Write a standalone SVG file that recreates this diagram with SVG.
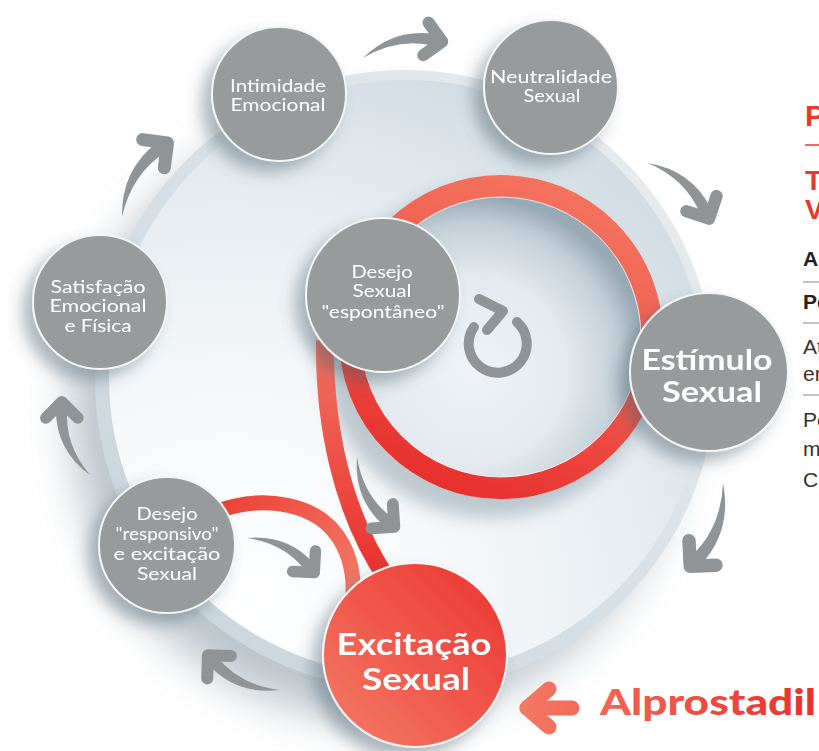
<svg xmlns="http://www.w3.org/2000/svg" width="819" height="751" viewBox="0 0 819 751">
<defs>
<style>
.nd{fill:#979b9c;stroke:#f3f5f6;stroke-width:2}
.tl{font-family:Lato,"Open Sans",sans-serif;font-size:17px;fill:#fff;text-anchor:middle}
.tb{font-family:Lato,"Open Sans",sans-serif;font-weight:700;fill:#fff;text-anchor:middle}
.rt{font-family:"Liberation Sans",Arial,sans-serif}
.rr{fill:#e8392b;font-weight:700}
.rk{fill:#222;font-weight:700;font-size:21px}
.rn{fill:#333;font-size:21px}
.gl{stroke:#9a9a9a;stroke-width:1.2}
</style>
<filter id="blur" x="-20%" y="-20%" width="140%" height="140%"><feGaussianBlur stdDeviation="22"/></filter>
<filter id="blur2" x="-20%" y="-20%" width="140%" height="140%"><feGaussianBlur stdDeviation="9"/></filter>
<filter id="sh" x="-50%" y="-50%" width="200%" height="200%"><feDropShadow dx="-10" dy="10" stdDeviation="8" flood-color="#4d6070" flood-opacity="0.45"/></filter>
<linearGradient id="rim" x1="1" y1="0" x2="0" y2="1"><stop offset="0" stop-color="#eaeff2"/><stop offset="1" stop-color="#c6d2da"/></linearGradient>
<radialGradient id="face" gradientUnits="userSpaceOnUse" cx="230" cy="620" r="580"><stop offset="0" stop-color="#ffffff"/><stop offset="0.45" stop-color="#f4f7f9"/><stop offset="0.8" stop-color="#e2e9ee"/><stop offset="1" stop-color="#d3dde4"/></radialGradient>
<radialGradient id="bowl" cx="0.4" cy="0.62" r="0.62"><stop offset="0" stop-color="#eff3f6"/><stop offset="0.55" stop-color="#e3e9ee"/><stop offset="0.85" stop-color="#c2ced7"/><stop offset="1" stop-color="#98a9b6"/></radialGradient>
<linearGradient id="ring" x1="0.7" y1="0" x2="0.3" y2="1"><stop offset="0" stop-color="#f3735f"/><stop offset="0.5" stop-color="#f0584a"/><stop offset="1" stop-color="#e8302d"/></linearGradient>
<linearGradient id="bandA" gradientUnits="userSpaceOnUse" x1="0" y1="340" x2="0" y2="580"><stop offset="0" stop-color="#f07262"/><stop offset="1" stop-color="#e9302d"/></linearGradient>
<linearGradient id="bandB" gradientUnits="userSpaceOnUse" x1="215" y1="500" x2="355" y2="600"><stop offset="0" stop-color="#ec3f35"/><stop offset="1" stop-color="#f37a67"/></linearGradient>
<linearGradient id="exc" x1="0" y1="1" x2="1" y2="0"><stop offset="0" stop-color="#f47c68"/><stop offset="1" stop-color="#ec3330"/></linearGradient>
<linearGradient id="alp" gradientUnits="userSpaceOnUse" x1="515" y1="0" x2="819" y2="0"><stop offset="0" stop-color="#f47a66"/><stop offset="1" stop-color="#ea2f2c"/></linearGradient>
<g id="arr">
<path d="M0 0 Q40 -25 82 -8 L78 4 Q42 -14 0 0 Z" fill="#909496"/>
<polyline points="77,-22 87,1 64,11" fill="none" stroke="#909496" stroke-width="13" stroke-linecap="round" stroke-linejoin="round"/>
</g>
</defs>
<rect width="819" height="751" fill="#fff"/>
<g id="backdrop">
<circle cx="376" cy="414" r="305" fill="#93a1ac" opacity="0.62" filter="url(#blur)"/>
<circle cx="405" cy="380" r="310" fill="url(#rim)"/>
<circle cx="407" cy="378" r="298" fill="url(#face)"/>
<circle cx="488" cy="352" r="166" fill="#7d8f9c" opacity="0.45" filter="url(#blur2)"/>
<circle cx="501" cy="337" r="140" fill="url(#bowl)"/>
</g>
<g id="connectors">
<circle cx="501" cy="337" r="151" fill="none" stroke="url(#ring)" stroke-width="22"/>
<circle cx="501" cy="337" r="140" fill="none" stroke="#fff" stroke-width="1" opacity="0.8"/>
<path d="M325 340 C324 420 340 510 388 580" fill="none" stroke="url(#bandA)" stroke-width="18"/>
<path d="M215 512 C260 495 320 500 343 545 C352 562 355 585 352 600" fill="none" stroke="url(#bandB)" stroke-width="15"/>
<use href="#arr" transform="translate(363,58) rotate(-12.4) scale(0.93)"/>
<use href="#arr" transform="translate(648,163) rotate(41.7) scale(0.95)"/>
<use href="#arr" transform="translate(723,483) rotate(110.8) scale(1.03)"/>
<use href="#arr" transform="translate(280,690) rotate(205) scale(0.92)"/>
<use href="#arr" transform="translate(90,475) rotate(248.2) scale(0.9)"/>
<use href="#arr" transform="translate(122,217) rotate(-59.1) scale(1)"/>
<use href="#arr" transform="translate(247,538) rotate(26.6) scale(0.87)"/>
<use href="#arr" transform="translate(357,457) rotate(62.5) scale(0.91,-0.91)"/>
<path d="M517 322 A29 29 0 1 1 474 327" fill="none" stroke="#909496" stroke-width="10" stroke-linecap="round"/>
<polyline points="479,299 503,311 487,330" fill="none" stroke="#909496" stroke-width="10" stroke-linecap="round" stroke-linejoin="round"/>
<g stroke="url(#alp)" stroke-width="15" stroke-linecap="round" stroke-linejoin="round" fill="none">
<polyline points="549,689 527,708 549,727"/>
<line x1="527" y1="708" x2="572" y2="708"/>
</g>
</g>
<g id="n-intimidade" filter="url(#sh)">
<circle class="nd" cx="279" cy="94" r="67"/>
<text class="tl" x="278" y="92" textLength="96" lengthAdjust="spacingAndGlyphs">Intimidade</text>
<text class="tl" x="278" y="111" textLength="95" lengthAdjust="spacingAndGlyphs">Emocional</text>
</g>
<g id="n-neutralidade" filter="url(#sh)">
<circle class="nd" cx="551" cy="87" r="67"/>
<text class="tl" x="551" y="83" textLength="122" lengthAdjust="spacingAndGlyphs">Neutralidade</text>
<text class="tl" x="552" y="102" textLength="57" lengthAdjust="spacingAndGlyphs">Sexual</text>
</g>
<g id="n-satisfacao" filter="url(#sh)">
<circle class="nd" cx="100" cy="302" r="67"/>
<text class="tl" x="98" y="293" textLength="95" lengthAdjust="spacingAndGlyphs">Satisfação</text>
<text class="tl" x="98" y="312" textLength="97" lengthAdjust="spacingAndGlyphs">Emocional</text>
<text class="tl" x="98" y="332" textLength="67" lengthAdjust="spacingAndGlyphs">e Física</text>
</g>
<g id="n-responsivo" filter="url(#sh)">
<circle class="nd" cx="167" cy="545" r="68"/>
<text class="tl" x="167" y="520" textLength="61" lengthAdjust="spacingAndGlyphs">Desejo</text>
<text class="tl" x="167" y="540" textLength="103" lengthAdjust="spacingAndGlyphs">"responsivo"</text>
<text class="tl" x="167" y="560" textLength="107" lengthAdjust="spacingAndGlyphs">e excitação</text>
<text class="tl" x="167" y="580" textLength="60" lengthAdjust="spacingAndGlyphs">Sexual</text>
</g>
<g id="n-espontaneo" filter="url(#sh)">
<circle class="nd" cx="383" cy="295" r="77"/>
<text class="tl" x="382" y="278" textLength="61" lengthAdjust="spacingAndGlyphs">Desejo</text>
<text class="tl" x="382" y="297" textLength="59" lengthAdjust="spacingAndGlyphs">Sexual</text>
<text class="tl" x="383" y="318" textLength="123" lengthAdjust="spacingAndGlyphs">"espontâneo"</text>
</g>
<g id="n-estimulo" filter="url(#sh)">
<circle class="nd" cx="709" cy="372" r="79"/>
<text class="tb" x="707" y="370" font-size="28" textLength="131" lengthAdjust="spacingAndGlyphs">Estímulo</text>
<text class="tb" x="712" y="402" font-size="28" textLength="100" lengthAdjust="spacingAndGlyphs">Sexual</text>
</g>
<g id="n-excitacao" filter="url(#sh)">
<circle cx="415" cy="655" r="92" fill="url(#exc)" stroke="#f3f5f6" stroke-width="2"/>
<text class="tb" x="414" y="655" font-size="31" textLength="155" lengthAdjust="spacingAndGlyphs">Excitação</text>
<text class="tb" x="416" y="690" font-size="31" textLength="108" lengthAdjust="spacingAndGlyphs">Sexual</text>
</g>
<g id="n-alprostadil">
<text x="600" y="715" font-family="Lato,'Open Sans',sans-serif" font-weight="900" font-size="36" fill="url(#alp)" textLength="216" lengthAdjust="spacingAndGlyphs">Alprostadil</text>
</g>
<g id="side-text" class="rt">
<text class="rr" x="805" y="126" font-size="30">P</text>
<line x1="805" y1="145" x2="819" y2="145" stroke="#e8392b" stroke-width="1.5"/>
<text class="rr" x="805" y="190" font-size="28">T</text>
<text class="rr" x="805" y="219" font-size="28">V</text>
<text class="rk" x="803" y="266">A</text>
<line class="gl" x1="803" y1="282" x2="819" y2="282"/>
<text class="rk" x="803" y="309">Pe</text>
<line class="gl" x1="803" y1="323" x2="819" y2="323"/>
<text class="rn" x="803" y="354">At</text>
<text class="rn" x="803" y="381">en</text>
<line class="gl" x1="803" y1="395" x2="819" y2="395"/>
<text class="rn" x="803" y="427">Pe</text>
<text class="rn" x="803" y="456">m</text>
<text class="rn" x="803" y="487">C</text>
</g>
</svg>
